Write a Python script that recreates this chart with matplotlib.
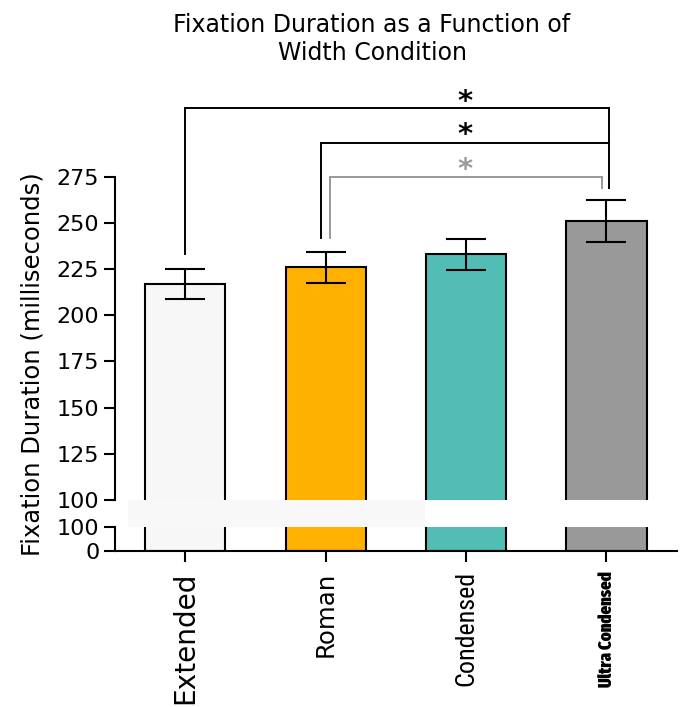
import matplotlib
matplotlib.use('Agg')
import matplotlib.pyplot as plt
import numpy as np
from matplotlib import font_manager as fm
from matplotlib.patches import Rectangle
from matplotlib.transforms import blended_transform_factory

conditions = ['Extended', 'Roman', 'Condensed', 'Ultra Condensed']
means = [217, 226, 233, 251]
sems = [8, 8.5, 8.5, 11.3]
colors = ['#f7f7f7', '#ffb000', '#52bdb5', '#999999']
upper_ticks = [100, 125, 150, 175, 200, 225, 250, 275]
lower_ticks = [0, 100]

plt.rcParams['font.family'] = 'DejaVu Sans'


def weight_of(f):
    return f.weight if isinstance(f.weight, int) else fm.weight_dict.get(f.weight, 400)


def narrow_font(bold, extra):
    # look for an installed condensed / narrow face
    prefer = ['Liberation Sans Narrow', 'Roboto Condensed', 'Noto Sans', 'Open Sans',
              'DejaVu Sans']
    cands = []
    for f in fm.fontManager.ttflist:
        tag = (f.name + ' ' + f.fname).lower()
        if f.style != 'normal':
            continue
        if not (f.stretch != 'normal' and 'cond' in tag or 'narrow' in tag or 'condensed' in tag):
            continue
        if 'expand' in tag or 'mono' in tag or 'semi' in tag:
            continue
        w = weight_of(f)
        if bold != (w >= 700):
            continue
        xtra = 'extracond' in tag.replace(' ', '') or 'ultracond' in tag.replace(' ', '')
        rank = next((i for i, p in enumerate(prefer) if f.name.startswith(p)), 99)
        cands.append(((xtra != extra), rank, -w if bold else abs(w - 400), f.fname))
    if not cands:
        return None
    return sorted(cands)[0][3]


W, H = 683, 707
fig = plt.figure(figsize=(W / 100, H / 100), dpi=100)

def box(l, t, r, b):
    return [l / W, 1 - b / H, (r - l) / W, (b - t) / H]

ax_up = fig.add_axes(box(115, 176.7, 676.7, 500))
ax_lo = fig.add_axes(box(115, 527, 676.7, 551))

x = np.arange(len(conditions))
for ax in (ax_up, ax_lo):
    ax.bar(x, means, width=0.57, color=colors, edgecolor='black', linewidth=1.5, zorder=2)
    ax.set_xlim(-0.5, 3.5)
    for s in ('top', 'right'):
        ax.spines[s].set_visible(False)
    for s in ('left', 'bottom'):
        ax.spines[s].set_linewidth(1.5)
    ax.tick_params(axis='y', length=7.7, width=1.5, labelsize=16, pad=3.6)

ax_up.errorbar(x, means, yerr=sems, fmt='none', ecolor='black', elinewidth=1.5,
               capsize=14.75, capthick=1.5, zorder=3)
ax_up.set_ylim(100, 275)
ax_up.set_yticks(upper_ticks)
ax_up.spines['bottom'].set_visible(False)
ax_up.tick_params(axis='x', bottom=False, labelbottom=False)

ax_lo.set_ylim(0, 100)
ax_lo.set_yticks(lower_ticks)
ax_lo.set_xticks(x)
ax_lo.set_xticklabels(conditions, rotation=90, va='top', ha='center')
ax_lo.tick_params(axis='x', length=8, width=1.5, pad=6.5)

# each condition label set in its own width of type
lbls = ax_lo.get_xticklabels()
f_cond = narrow_font(bold=False, extra=False)
f_ultra = narrow_font(bold=True, extra=True)
if f_cond:
    lbls[2].set_fontproperties(fm.FontProperties(fname=f_cond))
if f_ultra:
    lbls[3].set_fontproperties(fm.FontProperties(fname=f_ultra))
else:
    lbls[3].set_fontweight('bold')

renderer = fig.canvas.get_renderer()
for lbl, target in zip(lbls, [133, 85, 115, 116]):
    lbl.set_fontsize(20)
    L = lbl.get_window_extent(renderer).height
    lbl.set_fontsize(20 * target / L)

# light band in the axis break
p_up = ax_up.get_position()
p_lo = ax_lo.get_position()
trans = blended_transform_factory(ax_up.transData, fig.transFigure)
fig.add_artist(Rectangle((-0.41, p_lo.y1), 2.12, p_up.y0 - p_lo.y1, transform=trans,
                         facecolor='#f8f8f8', edgecolor='none'))

# significance brackets
lk = dict(clip_on=False, lw=1.4, solid_joinstyle='miter', zorder=4)
ax_up.plot([0, 0, 3.02, 3.02], [233, 312, 312, 268.7], color='black', **lk)
ax_up.plot([0.968, 0.968, 3.02], [241.8, 293.4, 293.4], color='black', **lk)
ax_up.plot([1.032, 1.032, 2.97, 2.97], [241.8, 275, 275, 268.7], color='#999999', **lk)
for yy, c in zip([318, 300, 281.3], ['black', 'black', '#999999']):
    ax_up.text(1.99, yy - 2.5, '*', ha='center', va='center', fontsize=21,
               fontweight='bold', color=c, clip_on=False)

fig.text(33 / W, 1 - 364.5 / H, 'Fixation Duration (milliseconds)', rotation=90,
         ha='center', va='center', fontsize=17.5)
fig.text(372 / W, 1 - 31.7 / H, 'Fixation Duration as a Function of', ha='center',
         va='baseline', fontsize=17)
fig.text(372 / W, 1 - 60 / H, 'Width Condition', ha='center', va='baseline', fontsize=17)

fig.savefig('out.png', dpi=100)
